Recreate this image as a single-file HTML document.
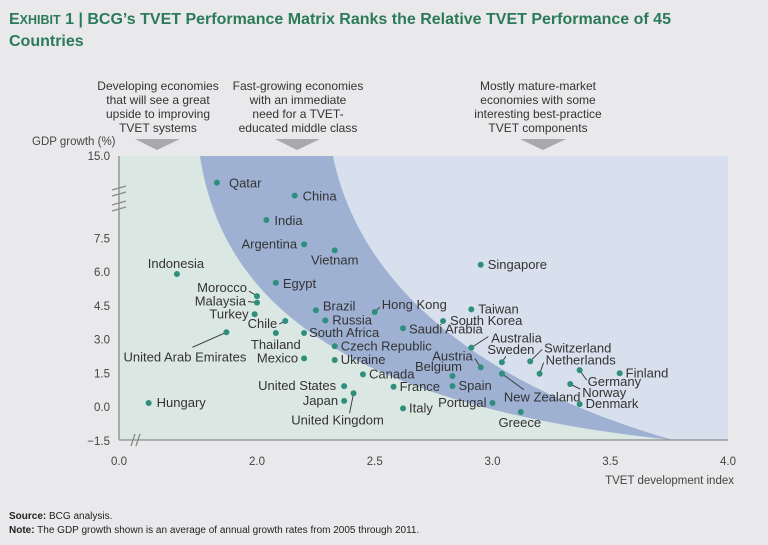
<!DOCTYPE html>
<html><head><meta charset="utf-8">
<style>
html,body{margin:0;padding:0;background:#e9e9eb;}
svg{display:block;font-family:"Liberation Sans",sans-serif;}
</style></head>
<body>
<svg id="chart" width="768" height="545" viewBox="0 0 768 545">
  <rect x="0" y="0" width="768" height="545" fill="#e9e9eb"/>
  <text x="9" y="24" font-size="16" font-weight="bold" fill="#2b7a5a"><tspan>E</tspan><tspan font-size="12.5">XHIBIT</tspan> 1 | BCG’s TVET Performance Matrix Ranks the Relative TVET Performance of 45</text>
  <text x="9" y="46" font-size="16" font-weight="bold" fill="#2b7a5a">Countries</text>

  <g font-family="'Liberation Sans Narrow','Liberation Sans',sans-serif" font-size="12" fill="#333" text-anchor="middle">
    <text><tspan x="158" y="90">Developing economies</tspan><tspan x="158" y="104">that will see a great</tspan><tspan x="158" y="118">upside to improving</tspan><tspan x="158" y="132">TVET systems</tspan></text>
    <text><tspan x="298" y="90">Fast-growing economies</tspan><tspan x="298" y="104">with an immediate</tspan><tspan x="298" y="118">need for a TVET-</tspan><tspan x="298" y="132">educated middle class</tspan></text>
    <text><tspan x="538" y="90">Mostly mature-market</tspan><tspan x="538" y="104">economies with some</tspan><tspan x="538" y="118">interesting best-practice</tspan><tspan x="538" y="132">TVET components</tspan></text>
  </g>
  <polygon points="135,139 180,139 157,150" fill="#a9a9ab"/>
  <polygon points="275,139 320,139 297,150" fill="#a9a9ab"/>
  <polygon points="520,139 566,139 543,150" fill="#a9a9ab"/>

  <g>
    <rect x="119" y="156" width="609" height="284" fill="#d8e0ed"/>
    <path d="M119,156 L333,156 C352,250 430,370 673,440 L119,440 Z" fill="#9fb1d3"/>
    <path d="M119,156 L200,156 C222,300 340,405 673,440 L119,440 Z" fill="#dbe7e3"/>
  </g>

  <g id="axes" stroke="#8a8a8a" stroke-width="1.3" fill="none">
    <line x1="119" y1="156" x2="119" y2="440"/>
    <line x1="119" y1="440" x2="728" y2="440"/>
    <path d="M112,190 L126,186 M112,196 L126,192 M112,205 L126,201 M112,211 L126,207"/>
    <path d="M131,446 L135,434 M136,446 L140,434"/>
  </g>
  <text x="32" y="145" font-family="'Liberation Sans Narrow','Liberation Sans',sans-serif" font-size="11.5" fill="#444">GDP growth (%)</text>
  <text x="734" y="484" text-anchor="end" font-family="'Liberation Sans Narrow','Liberation Sans',sans-serif" font-size="11.5" fill="#444">TVET development index</text>
  <g id="ticks" font-size="11.5" fill="#444"></g>
  <g id="leaders" stroke="#333" stroke-width="0.9"></g>
  <g id="points"></g>
  <g id="labels" font-size="13" fill="#333"></g>

  <text x="9" y="519" font-size="10" fill="#222"><tspan font-weight="bold">Source:</tspan> BCG analysis.</text>
  <text x="9" y="533" font-size="10" fill="#222"><tspan font-weight="bold">Note:</tspan> The GDP growth shown is an average of annual growth rates from 2005 through 2011.</text>
</svg>
<script>
const countries = ["Qatar","China","India","Argentina","Vietnam","Indonesia","Egypt","Morocco","Malaysia","Turkey","Chile","Brazil","Russia","Hong Kong","United Arab Emirates","Thailand","South Africa","Saudi Arabia","Czech Republic","Mexico","Ukraine","Canada","United States","United Kingdom","Japan","France","Italy","Hungary","Singapore","Taiwan","South Korea","Australia","Austria","Sweden","Switzerland","Netherlands","Belgium","Spain","New Zealand","Portugal","Greece","Germany","Norway","Denmark","Finland"];
const tvetIndex = [1.83,2.16,2.04,2.20,2.33,1.66,2.08,2.00,2.00,1.99,2.12,2.25,2.29,2.50,1.87,2.08,2.20,2.62,2.33,2.20,2.33,2.45,2.37,2.41,2.37,2.58,2.62,1.54,2.95,2.91,2.79,2.91,2.95,3.04,3.16,3.20,2.83,2.83,3.04,3.00,3.12,3.37,3.33,3.37,3.54];
const gdpGrowth = [11.7,10.1,8.31,7.23,6.96,5.91,5.52,4.93,4.64,4.12,3.82,4.30,3.85,4.22,3.32,3.29,3.29,3.50,2.70,2.16,2.09,1.45,0.93,0.61,0.27,0.90,-0.06,0.18,6.32,4.34,3.82,2.64,1.76,1.99,2.03,1.48,1.38,0.93,1.48,0.18,-0.22,1.64,1.02,0.13,1.50];
const xTickLabels = ["2.0","2.5","3.0","3.5","4.0"];
const yTickLabels = ["15.0","7.5","6.0","4.5","3.0","1.5","0.0","−1.5"];
const yTickValues = [15,7.5,6,4.5,3,1.5,0,-1.5];

const labelStyle = {
 "Qatar":[12,5,"start"],"China":[8,5,"start"],"India":[8,5,"start"],"Argentina":[-7,4,"end"],
 "Vietnam":[0,14,"middle"],"Indonesia":[-1,-6,"middle"],"Egypt":[7,5,"start"],
 "Morocco":[-10,-4,"end",-8,-5],"Malaysia":[-11,3,"end",-9,-1],"Turkey":[-6,4,"end"],
 "Chile":[-8,7,"end",-6,3],"Brazil":[7,0,"start"],"Russia":[7,4,"start"],
 "Hong Kong":[7,-3,"start",5,-5],"United Arab Emirates":[20,29,"end",-34,15],
 "Thailand":[0,16,"middle"],"South Africa":[5,4,"start"],"Saudi Arabia":[6,5,"start"],
 "Czech Republic":[6,4,"start"],"Mexico":[-6,4,"end"],"Ukraine":[6,4,"start"],
 "Canada":[6,4,"start"],"United States":[-8,4,"end"],"United Kingdom":[-16,31,"middle",-4,20],
 "Japan":[-6,4,"end"],"France":[6,4,"start"],"Italy":[6,4,"start"],"Hungary":[8,4,"start"],
 "Singapore":[7,4,"start"],"Taiwan":[7,4,"start"],"South Korea":[7,4,"start"],
 "Australia":[20,-5,"start",17,-11],"Austria":[-8,-7,"end",-6,-9],"Sweden":[9,-8,"middle",4,-6],
 "Switzerland":[14,-9,"start",12,-12],"Netherlands":[6,-9,"start",4,-11],
 "Belgium":[-14,-5,"middle"],"Spain":[6,4,"start"],"New Zealand":[2,28,"start",22,16],
 "Portugal":[-6,4,"end"],"Greece":[-1,15,"middle"],"Germany":[8,16,"start",7,10],
 "Norway":[12,13,"start",10,5],"Denmark":[6,4,"start"],"Finland":[6,4,"start"]
};

function xScale(v){ return 257 + (v-2)*235.5; }
function yScale(v){ return v<=9 ? 407 - v*22.5 : 204.5 - (v-9)*8.08; }

const NS="http://www.w3.org/2000/svg";
const ticks=document.getElementById('ticks');
xTickLabels.forEach(function(t){
  const el=document.createElementNS(NS,'text');
  el.setAttribute('x',xScale(parseFloat(t)));
  el.setAttribute('y',465);
  el.setAttribute('text-anchor','middle');
  el.textContent=t;
  
  
  ticks.appendChild(el);
});
const zero=document.createElementNS(NS,'text');
zero.setAttribute('x',119);zero.setAttribute('y',465);zero.setAttribute('text-anchor','middle');
zero.textContent="0.0";


ticks.appendChild(zero);
yTickLabels.forEach(function(t,i){
  const el=document.createElementNS(NS,'text');
  el.setAttribute('x',110);
  el.setAttribute('y',yScale(yTickValues[i])+4);
  el.setAttribute('text-anchor','end');
  el.textContent=t;
  
  
  ticks.appendChild(el);
});

const pts=document.getElementById('points'), labs=document.getElementById('labels'), lead=document.getElementById('leaders');
countries.forEach(function(c,i){
  const cx=xScale(tvetIndex[i]), cy=yScale(gdpGrowth[i]);
  const s=labelStyle[c]||[6,4,"start"];
  if(s.length>3){
    const ln=document.createElementNS(NS,'line');
    ln.setAttribute('x1',cx);ln.setAttribute('y1',cy);
    ln.setAttribute('x2',cx+s[3]);ln.setAttribute('y2',cy+s[4]);
    
    
    lead.appendChild(ln);
  }
  const d=document.createElementNS(NS,'circle');
  d.setAttribute('cx',cx);d.setAttribute('cy',cy);d.setAttribute('r',3);
  d.setAttribute('fill','#2f8f7d');
  
  
  pts.appendChild(d);
  const t=document.createElementNS(NS,'text');
  t.setAttribute('x',cx+s[0]);t.setAttribute('y',cy+s[1]);
  t.setAttribute('text-anchor',s[2]);
  t.textContent=c;
  
  
  labs.appendChild(t);
});
</script>
</body></html>
